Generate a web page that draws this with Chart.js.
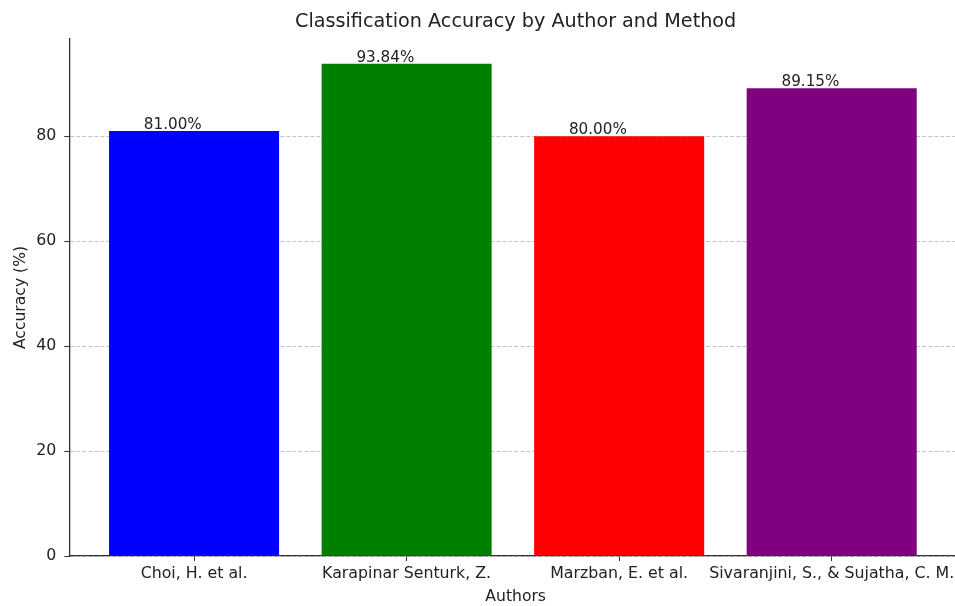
<!DOCTYPE html>
<html>
<head>
<meta charset="utf-8">
<script src="https://cdn.jsdelivr.net/npm/chart.js@4/dist/chart.umd.min.js"></script>
<style>
  html, body { margin: 0; padding: 0; background: #fff; overflow: hidden; width: 955px; height: 606px; }
  #wrap { position: relative; width: 962px; height: 606px; }
</style>
</head>
<body>
<div id="wrap"><canvas id="c"></canvas></div>
<script>
const authors = ["Choi, H. et al.", "Karapinar Senturk, Z.", "Marzban, E. et al.", "Sivaranjini, S., & Sujatha, C. M."];
const accuracy = [81.00, 93.84, 80.00, 89.15];
const barColors = ["blue", "green", "red", "purple"];
const yTicks = [0, 20, 40, 60, 80];

const FONT = "'DejaVu Sans', sans-serif";

const labelPlugin = {
  id: 'barLabels',
  afterDatasetsDraw(chart) {
    const ctx = chart.ctx;
    const xs = chart.scales.x, ys = chart.scales.y;
    ctx.save();
    ctx.font = "15.2px " + FONT;
    ctx.fillStyle = "#222";
    ctx.textAlign = "center";
    ctx.textBaseline = "alphabetic";
    accuracy.forEach((v, i) => {
      const x = xs.getPixelForValue(i - 0.1);
      const y = ys.getPixelForValue(v);
      ctx.fillText(v.toFixed(2) + "%", x, y - 2);
    });
    ctx.restore();
  }
};

new Chart(document.getElementById('c'), {
  type: 'bar',
  data: {
    datasets: [{
      data: accuracy.map((v, i) => ({ x: i, y: v })),
      backgroundColor: barColors,
      borderWidth: 0,
      barPercentage: 0.8,
      categoryPercentage: 1.0
    }]
  },
  options: {
    responsive: true,
    maintainAspectRatio: false,
    animation: false,
    layout: { padding: 0 },
    plugins: {
      legend: { display: false },
      tooltip: { enabled: false },
      title: {
        display: true,
        text: "Classification Accuracy by Author and Method",
        fullSize: false,
        color: "#222",
        font: { family: FONT, size: 19.2, weight: 'normal' },
        padding: { top: 10, bottom: 6 }
      }
    },
    scales: {
      x: {
        type: 'linear',
        min: -0.587,
        max: 3.613,
        offset: false,
        afterBuildTicks(scale) { scale.ticks = authors.map((_, i) => ({ value: i })); },
        afterFit(scale) { scale.height = 50; },
        ticks: {
          callback: (v) => authors[v],
          color: "#222",
          font: { family: FONT, size: 15.8 },
          padding: 3,
          maxRotation: 0,
          autoSkip: false
        },
        grid: { display: true, offset: false, drawOnChartArea: false, drawTicks: true, tickLength: 5, tickColor: "#333", tickWidth: 1 },
        border: { display: true, color: "#333", width: 1.3 },
        title: {
          display: true,
          text: "Authors",
          color: "#222",
          font: { family: FONT, size: 15.6 },
          padding: { top: 0, bottom: 0 }
        }
      },
      y: {
        min: 0,
        max: 98.53,
        z: 1,
        afterBuildTicks(scale) { scale.ticks = yTicks.map(v => ({ value: v })); },
        afterFit(scale) { scale.width = 69.3; },
        ticks: {
          color: "#222",
          font: { family: FONT, size: 15.8 },
          padding: 8
        },
        grid: {
          color: "rgba(170,170,170,0.7)",
          lineWidth: 1,
          tickLength: 5,
          tickColor: "#333",
          tickWidth: 1,
          tickBorderDash: []
        },
        border: { display: true, color: "#333", width: 1.3, dash: [4, 2] },
        title: {
          display: true,
          text: "Accuracy (%)",
          color: "#222",
          font: { family: FONT, size: 15.6 },
          padding: { top: 11.6, bottom: 0 }
        }
      }
    }
  },
  plugins: [labelPlugin]
});
</script>
</body>
</html>
